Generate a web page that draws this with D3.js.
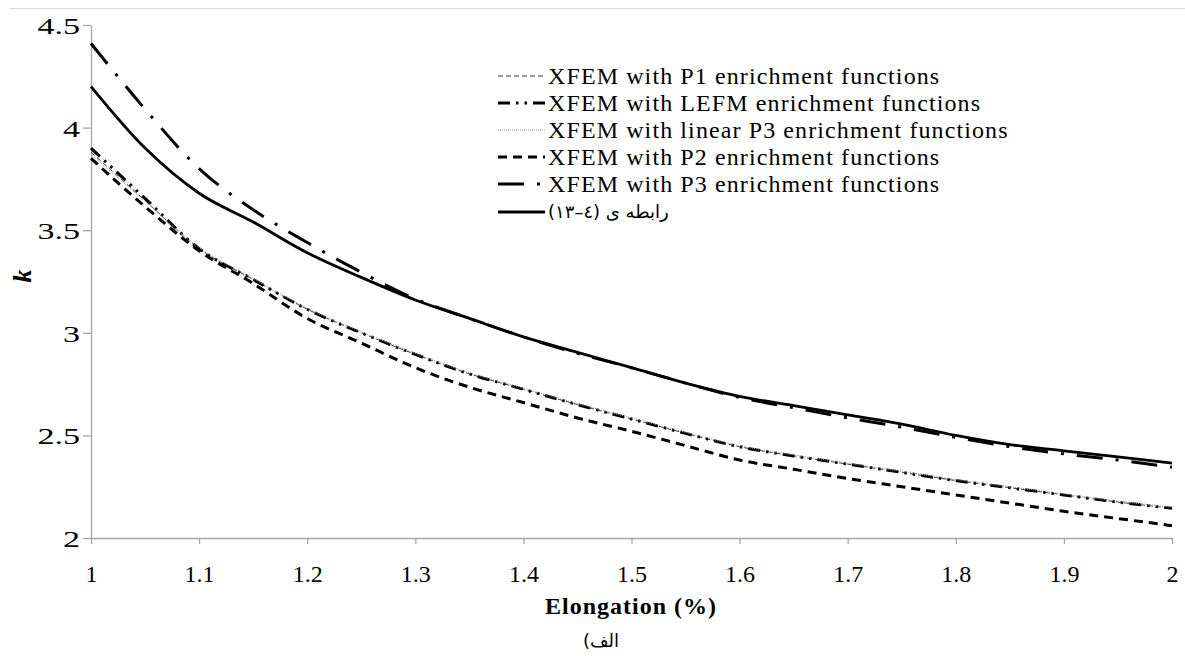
<!DOCTYPE html>
<html>
<head>
<meta charset="utf-8">
<script src="https://cdn.jsdelivr.net/npm/d3@7"></script>
<style>
  html, body { margin: 0; padding: 0; background: #fff; }
  svg { display: block; }
  .serif { font-family: "Liberation Serif", "DejaVu Serif", serif; }
  .tick text { font-family: "Liberation Serif", "DejaVu Serif", serif; font-size: 24px; fill: #000; }
</style>
</head>
<body>
<svg id="chart" width="1185" height="656"></svg>
<script>
// Elongation values (%) at which every curve is sampled
const elongation = [1.00, 1.05, 1.10, 1.15, 1.20, 1.25, 1.30, 1.35, 1.40, 1.45, 1.50,
                    1.55, 1.60, 1.65, 1.70, 1.75, 1.80, 1.85, 1.90, 1.95, 2.00];

// k for each method
const kP1 =      [3.88, 3.645, 3.41, 3.26, 3.115, 3.00, 2.895, 2.80, 2.725, 2.65, 2.58,
                  2.51, 2.445, 2.40, 2.36, 2.32, 2.28, 2.245, 2.21, 2.175, 2.145];
const kLEFM =    [3.90, 3.655, 3.41, 3.26, 3.115, 3.00, 2.895, 2.80, 2.725, 2.65, 2.58,
                  2.51, 2.445, 2.40, 2.36, 2.32, 2.28, 2.245, 2.21, 2.175, 2.145];
const kLinP3 =   [3.87, 3.64, 3.415, 3.265, 3.12, 3.005, 2.90, 2.805, 2.73, 2.655, 2.585,
                  2.515, 2.45, 2.405, 2.365, 2.325, 2.285, 2.25, 2.215, 2.18, 2.15];
const kP2 =      [3.85, 3.615, 3.40, 3.24, 3.07, 2.95, 2.83, 2.735, 2.66, 2.585, 2.52,
                  2.45, 2.38, 2.335, 2.29, 2.25, 2.21, 2.17, 2.13, 2.095, 2.06];
const kP3 =      [4.41, 4.09, 3.80, 3.60, 3.44, 3.295, 3.165, 3.07, 2.98, 2.90, 2.83,
                  2.755, 2.685, 2.635, 2.585, 2.54, 2.49, 2.445, 2.41, 2.38, 2.345];
const kEq =      [4.20, 3.90, 3.68, 3.54, 3.39, 3.27, 3.16, 3.07, 2.98, 2.905, 2.83,
                  2.755, 2.69, 2.645, 2.60, 2.555, 2.50, 2.455, 2.425, 2.395, 2.365];

const seriesNames = [
  "XFEM with P1 enrichment functions",
  "XFEM with LEFM enrichment functions",
  "XFEM with linear P3 enrichment functions",
  "XFEM with P2 enrichment functions",
  "XFEM with P3 enrichment functions",
  "رابطه ی (٤–١٣)"
];

const xTicks = [1, 1.1, 1.2, 1.3, 1.4, 1.5, 1.6, 1.7, 1.8, 1.9, 2];
const yTicks = [2, 2.5, 3, 3.5, 4, 4.5];

// Line styles per series
const styles = [
  { color: "#444", width: 1,   dash: "5,3" },
  { color: "#000", width: 3,   dash: "12,6,2.5,6,2.5,6" },
  { color: "#9a9a9a", width: 1, dash: "1,1" },
  { color: "#000", width: 3,   dash: "9,6" },
  { color: "#000", width: 3,   dash: "26,13,3,13" },
  { color: "#000", width: 2.8, dash: null }
];

const seriesValues = [kP1, kLEFM, kLinP3, kP2, kP3, kEq];
const series = seriesNames.map((name, i) => ({
  name,
  style: styles[i],
  points: elongation.map((e, j) => ({ x: e, y: seriesValues[i][j] }))
}));

const svg = d3.select("#chart");

// Frame line across the top
svg.append("line")
  .attr("x1", 10).attr("x2", 1185)
  .attr("y1", 8.5).attr("y2", 8.5)
  .attr("stroke", "#d9d9d9").attr("stroke-width", 1);

const x = d3.scaleLinear().domain([1, 2]).range([91, 1172]);
const y = d3.scaleLinear().domain([2, 4.5]).range([538, 25]);

// Axes
const xAxis = svg.append("g")
  .attr("transform", `translate(0,${y(2)})`)
  .call(d3.axisBottom(x).tickValues(xTicks).tickFormat(d3.format("")).tickSize(6).tickSizeOuter(0).tickPadding(21));
const yAxis = svg.append("g")
  .attr("transform", `translate(${x(1)},0)`)
  .call(d3.axisLeft(y).tickValues(yTicks).tickFormat(d3.format("")).tickSize(8).tickSizeOuter(0).tickPadding(4));

[xAxis, yAxis].forEach(g => {
  g.attr("font-family", null).attr("font-size", null);
  g.select(".domain").attr("stroke", "#a6a6a6").attr("stroke-width", 1.3);
  g.selectAll(".tick line").attr("stroke", "#a6a6a6").attr("stroke-width", 1.3);
});
// Value labels on the k axis are set in a wide face
yAxis.selectAll(".tick text")
  .attr("x", 0)
  .attr("dy", "0.35em")
  .attr("transform", "translate(-11,0) scale(1.42,1)");

// Curves
const line = d3.line()
  .x(d => x(d.x))
  .y(d => y(d.y))
  .curve(d3.curveMonotoneX);

svg.append("g").selectAll("path")
  .data(series)
  .join("path")
  .attr("d", d => line(d.points))
  .attr("fill", "none")
  .attr("stroke", d => d.style.color)
  .attr("stroke-width", d => d.style.width)
  .attr("stroke-dasharray", d => d.style.dash)
  .attr("stroke-linejoin", "round");

// Legend
const legendRows = [76, 103, 130, 157, 184, 212];
const legend = svg.append("g");
series.forEach((s, i) => {
  const ly = legendRows[i];
  legend.append("line")
    .attr("x1", 498).attr("x2", 545)
    .attr("y1", ly).attr("y2", ly)
    .attr("stroke", s.style.color)
    .attr("stroke-width", s.style.width)
    .attr("stroke-dasharray", s.style.dash);
  const isRtl = i === 5;
  const t = legend.append("text")
    .attr("x", 548)
    .attr("y", ly)
    .attr("dy", "0.35em")
    .attr("text-anchor", isRtl ? "end" : "start")
    .style("direction", isRtl ? "rtl" : "ltr")
    .attr("fill", "#000")
    .text(s.name);
  if (isRtl) {
    t.style("font-family", '"DejaVu Sans", sans-serif').style("font-size", "18px");
  } else {
    t.attr("class", "serif").style("font-size", "24px").style("letter-spacing", "1.1px");
  }
});

// Axis titles
svg.append("text")
  .attr("class", "serif")
  .attr("x", 631).attr("y", 614)
  .attr("text-anchor", "middle")
  .style("font-weight", "bold")
  .style("font-size", "24px")
  .style("letter-spacing", "1px")
  .text("Elongation (%)");

svg.append("text")
  .attr("class", "serif")
  .attr("transform", "translate(31,276) rotate(-90)")
  .attr("text-anchor", "middle")
  .style("font-weight", "bold")
  .style("font-style", "italic")
  .style("font-size", "26px")
  .text("k");

// Panel caption
svg.append("text")
  .attr("x", 601).attr("y", 647)
  .attr("text-anchor", "middle")
  .style("direction", "rtl")
  .style("font-family", '"DejaVu Sans", sans-serif')
  .style("font-size", "18px")
  .text("الف)");
</script>
</body>
</html>
